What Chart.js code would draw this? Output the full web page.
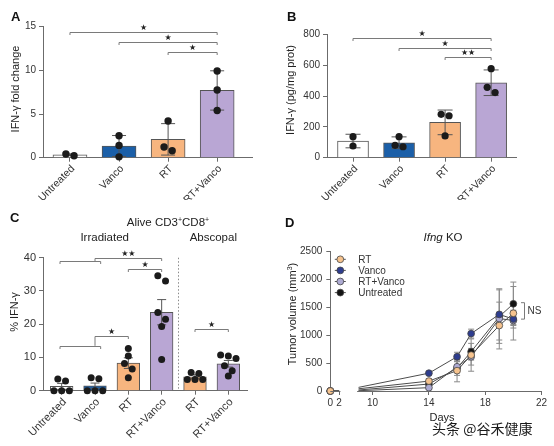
<!DOCTYPE html>
<html>
<head>
<meta charset="utf-8">
<title>IFN-γ panels</title>
<script src="https://cdn.jsdelivr.net/npm/chart.js@4.4.1/dist/chart.umd.min.js"></script>
<style>
  html, body { margin: 0; padding: 0; background: #fff; }
  body { position: relative; width: 554px; height: 446px; overflow: hidden;
         font-family: "Liberation Sans", Arial, sans-serif; color: #222; }
  canvas { position: absolute; }
  .t { position: absolute; white-space: nowrap; line-height: 1; }
  .c { transform: translate(-50%, -50%); }
  .v { transform: translate(-50%, -50%) rotate(-90deg); }
  .letter { font-size: 13px; font-weight: bold; color: #111; }
  sup { font-size: 7px; vertical-align: 4px; line-height: 0; }
</style>
</head>
<body>
<canvas id="chartA" width="277" height="200" style="left:0;top:0"></canvas>
<canvas id="chartB" width="277" height="200" style="left:277px;top:0"></canvas>
<canvas id="chartC" width="277" height="246" style="left:0;top:200px"></canvas>
<canvas id="chartD" width="277" height="246" style="left:277px;top:200px"></canvas>

<div class="t letter" style="left:11px;top:9.7px">A</div>
<div class="t letter" style="left:287px;top:9.7px">B</div>
<div class="t letter" style="left:10px;top:210.7px">C</div>
<div class="t letter" style="left:285px;top:215.7px">D</div>

<div class="t v" style="left:15px;top:89px;font-size:11px">IFN-γ fold change</div>
<div class="t v" style="left:289.5px;top:90px;font-size:11px">IFN-γ (pg/mg prot)</div>
<div class="t v" style="left:13.5px;top:312px;font-size:11px">% IFN-γ</div>
<div class="t v" style="left:292px;top:314px;font-size:11px">Tumor volume (mm<sup>3</sup>)</div>

<div class="t c" style="left:168px;top:222.7px;font-size:11.5px">Alive CD3<sup>+</sup>CD8<sup>+</sup></div>
<div class="t c" style="left:104.7px;top:238.3px;font-size:11.5px">Irradiated</div>
<div class="t c" style="left:213.3px;top:238.3px;font-size:11.5px">Abscopal</div>
<div class="t c" style="left:443px;top:238.3px;font-size:11.5px"><i>Ifng</i> KO</div>
<div class="t c" style="left:442px;top:416.7px;font-size:11px">Days</div>
<div class="t" style="left:432px;top:427.7px;transform:translateY(-50%);font-size:14px;font-family:'Noto Sans CJK SC',sans-serif;color:#1a1a1a;text-shadow:0 0 2px #fff,0 0 2px #fff">头条 @谷禾健康</div>

<script>
// ---- panel A: IFN-γ fold change ----
const groupsAB = ['Untreated', 'Vanco', 'RT', 'RT+Vanco'];
const foldMean = [0.33, 1.34, 2.1, 7.7];
const foldErr = [0.1, 1.2, 1.8, 2.25];
const foldPts = [[0.42, 0.23], [2.52, 1.41, 0.1], [4.2, 1.22, 0.8], [9.92, 7.75, 5.4]];
const foldSig = [[0, 3, 14.4, '★'], [1, 3, 13.2, '★'], [2, 3, 12.06, '★']];

// ---- panel B: IFN-γ pg/mg protein ----
const protMean = [108, 97, 229, 486];
const protErr = [44, 38, 80, 83];
const protPts = [[136, 76], [136, 80, 71], [281, 272, 141], [577, 456, 422]];
const protSig = [[0, 3, 778, '★'], [1, 3, 711, '★'], [2, 3, 650, '★★']];

// ---- panel C: % IFN-γ of alive CD3+CD8+ ----
const groupsC = ['Untreated', 'Vanco', 'RT', 'RT+Vanco', 'RT', 'RT+Vanco'];
const cd8Mean = [1.3, 1.5, 8.3, 23.6, 4.2, 8.1];
const cd8Err = [0.9, 0.8, 1.6, 3.8, 0.6, 1.0];
const cd8Pts = [[3.5, 2.9, 0, 0, 0], [3.9, 3.6, 0, 0, 0], [12.7, 10.4, 8.2, 6.5, 3.9],
  [34.6, 33.0, 23.5, 21.5, 19.3, 9.4], [5.5, 5.2, 3.4, 3.4, 3.4], [10.7, 10.4, 9.7, 7.5, 6.0, 4.4]];
// [from, to, level, label, level of left foot]
const cd8Sig = [[-0.05, 1.17, 39.1, ''], [1, 3, 40.0, '★★'], [2, 3, 36.5, '★'],
  [-0.05, 1.17, 13.5, ''], [1, 2, 16.4, '★', 13.5], [4, 5, 18.6, '★']];

// ---- panel D: tumour growth, Ifng KO ----
const days = [0, 2, 9, 14, 16, 17, 19, 20];
const markedDays = [0, 14, 16, 17, 19, 20];
const seriesD = ['RT', 'Vanco', 'RT+Vanco', 'Untreated'];
const volRT = [0, 0, 40, 178, 365, 645, 1175, 1395];
const volVanco = [0, 0, 65, 320, 615, 1030, 1375, 1290];
const volRTV = [0, 0, 5, 60, 435, 615, 1300, 1265];
const volUnt = [0, 0, 18, 125, 410, 705, 1335, 1565];
const sdRT = [0, 0, 0, 40, 200, 290, 420, 480];
const sdVanco = [0, 0, 0, 30, 80, 80, 460, 160];
const sdRTV = [0, 0, 0, 30, 90, 150, 80, 70];
const sdUnt = [0, 0, 0, 40, 130, 150, 480, 390];
const dayTicks = [0, 2, 10, 14, 18, 22];
const nsRange = [1290, 1585];

const barColors = ['#ffffff', '#1b5fa8', '#f7b57f', '#b9a6d4'];
const barColorsC = ['#ffffff', '#1b5fa8', '#f7b57f', '#b9a6d4', '#f7b57f', '#b9a6d4'];
const lineColors = ['#f6c38e', '#2e3d8f', '#aeabd3', '#141414'];
const axisColor = '#6b6b6b';

Chart.defaults.font.family = '"Liberation Sans", Arial, sans-serif';
Chart.defaults.font.size = 10;
Chart.defaults.color = '#333';

// spread dots of similar height side by side (simple beeswarm rows)
function dodge(vals, pxY, pxX, diam) {
  const order = vals.map((v, i) => i).sort((a, b) => vals[b] - vals[a]);
  const rows = [];
  order.forEach(i => {
    const row = rows[rows.length - 1];
    if (row && (vals[row[0]] - vals[i]) * pxY < diam * 0.97) row.push(i);
    else rows.push([i]);
  });
  const off = vals.map(() => 0);
  rows.forEach(row => row.forEach((i, k) => {
    off[i] = (k - (row.length - 1) / 2) * diam * 1.1 / pxX;
  }));
  return off;
}

function errorBars(means, errs, cap) {
  return {
    id: 'errorBars',
    afterDatasetDraw(chart, args) {
      if (args.meta.type !== 'bar') return;
      const { ctx, scales: { x, y } } = chart;
      ctx.save();
      ctx.strokeStyle = '#555';
      ctx.lineWidth = 1;
      ctx.beginPath();
      means.forEach((m, g) => {
        const px = x.getPixelForValue(g);
        const top = y.getPixelForValue(m + errs[g]);
        const bot = y.getPixelForValue(Math.max(0, m - errs[g]));
        ctx.moveTo(px, bot); ctx.lineTo(px, top);
        ctx.moveTo(px - cap / 2, top); ctx.lineTo(px + cap / 2, top);
        ctx.moveTo(px - cap / 2, bot); ctx.lineTo(px + cap / 2, bot);
      });
      ctx.stroke();
      ctx.restore();
    }
  };
}

function brackets(list) {
  return {
    id: 'brackets',
    afterDatasetsDraw(chart) {
      const { ctx, scales: { x, y } } = chart;
      ctx.save();
      ctx.strokeStyle = '#7a7a7a';
      ctx.lineWidth = 1;
      ctx.fillStyle = '#222';
      ctx.font = '8px "DejaVu Sans"';
      ctx.textAlign = 'center';
      ctx.textBaseline = 'middle';
      list.forEach(([a, b, v, label, foot]) => {
        const x1 = x.getPixelForValue(a), x2 = x.getPixelForValue(b);
        const yy = Math.round(y.getPixelForValue(v)) + 0.5;
        const y1 = foot === undefined ? yy + 2.5 : y.getPixelForValue(foot);
        ctx.beginPath();
        ctx.moveTo(x1, y1); ctx.lineTo(x1, yy); ctx.lineTo(x2, yy); ctx.lineTo(x2, yy + 2.5);
        ctx.stroke();
        if (label) ctx.fillText(label, (x1 + x2) / 2, yy - 5);
      });
      ctx.restore();
    }
  };
}

const divider = {
  id: 'divider',
  afterDatasetsDraw(chart) {
    const { ctx, chartArea, scales: { x } } = chart;
    const px = Math.round(x.getPixelForValue(3.5)) + 0.5;
    ctx.save();
    ctx.strokeStyle = '#8a8a8a';
    ctx.setLineDash([1.5, 2]);
    ctx.beginPath();
    ctx.moveTo(px, chartArea.top); ctx.lineTo(px, chartArea.bottom);
    ctx.stroke();
    ctx.restore();
  }
};

function barPanel(id, o) {
  const plotW = o.w - o.yw - o.padR, plotH = o.h - o.padT - o.xh;
  const pxX = plotW / (o.xmax - o.xmin), pxY = plotH / o.ymax;
  const dots = [];
  o.pts.forEach((vals, g) => {
    const off = dodge(vals, pxY, pxX, o.dot * 2);
    vals.forEach((v, k) => dots.push({ x: g + off[k], y: v }));
  });
  return new Chart(document.getElementById(id), {
    type: 'bar',
    data: {
      datasets: [
        { type: 'scatter', data: dots, order: 1, pointRadius: o.dot,
          pointBackgroundColor: '#1b1b1b', pointBorderWidth: 0, clip: false },
        { type: 'bar', data: o.means.map((m, g) => ({ x: g, y: m })), order: 2,
          backgroundColor: o.colors, borderColor: '#555', borderWidth: 1, barThickness: o.barW }
      ]
    },
    options: {
      responsive: false, animation: false, events: [],
      layout: { padding: { top: o.padT, right: o.padR, left: 0, bottom: 0 } },
      plugins: { legend: { display: false }, tooltip: { enabled: false } },
      scales: {
        x: {
          type: 'linear', min: o.xmin, max: o.xmax, offset: false,
          grid: { drawOnChartArea: false, tickLength: 4, color: axisColor, offset: false },
          border: { color: axisColor },
          afterBuildTicks: s => { s.ticks = o.cats.map((c, i) => ({ value: i })); },
          afterFit: s => { s.height = o.xh; },
          ticks: { autoSkip: false, minRotation: 45, maxRotation: 45, padding: 1, labelOffset: 3,
                   font: { size: o.catFont }, callback: v => o.cats[v] }
        },
        y: {
          min: 0, max: o.ymax,
          grid: { drawOnChartArea: false, tickLength: 4, color: axisColor },
          border: { color: axisColor },
          afterFit: s => { s.width = o.yw; },
          ticks: { stepSize: o.step, padding: 3, font: { size: o.tickFont }, callback: v => v }
        }
      }
    },
    plugins: [errorBars(o.means, o.errs, o.cap), brackets(o.sig)].concat(o.extra || [])
  });
}

barPanel('chartA', {
  w: 277, h: 200, yw: 43, padR: 25, padT: 26.7, xh: 42.3, xmin: -0.55, xmax: 3.71,
  ymax: 15, step: 5, cats: groupsAB, means: foldMean, errs: foldErr, pts: foldPts,
  sig: foldSig, colors: barColors, barW: 34, cap: 14, dot: 3.7, catFont: 10.5, tickFont: 10
});
barPanel('chartB', {
  w: 277, h: 200, yw: 50, padR: 38, padT: 34.3, xh: 42.3, xmin: -0.565, xmax: 3.54,
  ymax: 800, step: 200, cats: groupsAB, means: protMean, errs: protErr, pts: protPts,
  sig: protSig, colors: barColors, barW: 31, cap: 15, dot: 3.6, catFont: 10.5, tickFont: 10
});
barPanel('chartC', {
  w: 277, h: 246, yw: 43, padR: 30, padT: 57.7, xh: 55.3, xmin: -0.56, xmax: 5.56,
  ymax: 40, step: 10, cats: groupsC, means: cd8Mean, errs: cd8Err, pts: cd8Pts,
  sig: cd8Sig, colors: barColorsC, barW: 22.7, cap: 9, dot: 3.5, catFont: 11, tickFont: 11,
  extra: [divider]
});

// ---- broken day axis for panel D ----
const dayKnots = [[0, 0], [2.3, 0.048], [8.9, 0.127], [22, 1]];
function knotIndex(val, col) {
  let i = 0;
  while (i < dayKnots.length - 2 && val > dayKnots[i + 1][col]) i++;
  return i;
}
class BrokenScale extends Chart.LinearScale {
  getPixelForValue(v) {
    if (v === null || v === undefined || isNaN(v)) return NaN;
    const i = knotIndex(v, 0);
    const [v0, d0] = dayKnots[i], [v1, d1] = dayKnots[i + 1];
    return this.getPixelForDecimal(d0 + (v - v0) / (v1 - v0) * (d1 - d0));
  }
  getValueForPixel(p) {
    const d = this.getDecimalForPixel(p);
    const i = knotIndex(d, 1);
    const [v0, d0] = dayKnots[i], [v1, d1] = dayKnots[i + 1];
    return v0 + (d - d0) / (d1 - d0) * (v1 - v0);
  }
}
BrokenScale.id = 'broken';
BrokenScale.defaults = Chart.LinearScale.defaults;
Chart.register(BrokenScale);

const volumes = [volRT, volVanco, volRTV, volUnt];
const spreads = [sdRT, sdVanco, sdRTV, sdUnt];

const growthExtras = {
  id: 'growthExtras',
  beforeDatasetsDraw(chart) {
    const { ctx, scales: { x, y } } = chart;
    ctx.save();
    ctx.strokeStyle = '#8a8a8a';
    ctx.lineWidth = 1;
    ctx.beginPath();
    volumes.forEach((vals, s) => vals.forEach((v, i) => {
      const e = spreads[s][i];
      if (!e) return;
      const px = x.getPixelForValue(days[i]);
      const top = y.getPixelForValue(v + e), bot = y.getPixelForValue(v - e);
      ctx.moveTo(px, bot); ctx.lineTo(px, top);
      ctx.moveTo(px - 3, top); ctx.lineTo(px + 3, top);
      ctx.moveTo(px - 3, bot); ctx.lineTo(px + 3, bot);
    }));
    ctx.stroke();
    ctx.restore();
  },
  afterDraw(chart) {
    const { ctx, chartArea, scales: { x, y } } = chart;
    ctx.save();
    // the two pieces of the broken x axis
    const yb = Math.round(chartArea.bottom) + 0.5;
    ctx.strokeStyle = axisColor;
    ctx.lineWidth = 1;
    ctx.beginPath();
    ctx.moveTo(x.getPixelForValue(0), yb); ctx.lineTo(x.getPixelForValue(2.3), yb);
    ctx.moveTo(x.getPixelForValue(8.9), yb); ctx.lineTo(x.getPixelForValue(22), yb);
    ctx.stroke();
    // legend
    ctx.font = '10px "Liberation Sans", Arial, sans-serif';
    ctx.textBaseline = 'middle';
    ctx.textAlign = 'left';
    seriesD.forEach((name, s) => {
      const cx = chartArea.left + 10, cy = chartArea.top + 7.6 + s * 11.1;
      ctx.strokeStyle = '#555';
      ctx.beginPath(); ctx.moveTo(cx - 5.5, cy); ctx.lineTo(cx + 5.5, cy); ctx.stroke();
      ctx.beginPath(); ctx.arc(cx, cy, 3.4, 0, Math.PI * 2);
      ctx.fillStyle = lineColors[s]; ctx.fill();
      ctx.strokeStyle = '#444'; ctx.lineWidth = 0.8; ctx.stroke(); ctx.lineWidth = 1;
      ctx.fillStyle = '#333';
      ctx.fillText(name, cx + 18, cy + 0.5);
    });
    // NS bracket
    const nx = Math.round(x.getPixelForValue(20.75)) + 0.5;
    const n1 = y.getPixelForValue(nsRange[1]), n0 = y.getPixelForValue(nsRange[0]);
    ctx.strokeStyle = '#7a7a7a';
    ctx.beginPath();
    ctx.moveTo(nx - 3.5, n1); ctx.lineTo(nx, n1); ctx.lineTo(nx, n0); ctx.lineTo(nx - 3.5, n0);
    ctx.stroke();
    ctx.fillStyle = '#333';
    ctx.fillText('NS', nx + 3, (n0 + n1) / 2);
    ctx.restore();
  }
};

new Chart(document.getElementById('chartD'), {
  type: 'line',
  data: {
    datasets: seriesD.map((name, s) => ({
      label: name,
      data: days.map((d, i) => ({ x: d, y: volumes[s][i] })),
      borderColor: '#4d4d4d', borderWidth: 1,
      pointRadius: days.map(d => markedDays.includes(d) ? 3.4 : 0),
      pointBackgroundColor: lineColors[s], pointBorderColor: '#444', pointBorderWidth: 0.8,
      clip: false,
      segment: { borderColor: c => (c.p1.parsed.x - c.p0.parsed.x > 5 ? 'rgba(0,0,0,0)' : undefined) }
    }))
  },
  options: {
    responsive: false, animation: false, events: [],
    layout: { padding: { top: 51.7, right: 12.5, left: 0, bottom: 0 } },
    plugins: { legend: { display: false }, tooltip: { enabled: false } },
    scales: {
      x: {
        type: 'broken', min: 0, max: 22,
        grid: { drawOnChartArea: false, tickLength: 4, color: axisColor },
        border: { display: false },
        afterBuildTicks: s => { s.ticks = dayTicks.map(v => ({ value: v })); },
        afterFit: s => { s.height = 55; },
        ticks: { autoSkip: false, maxRotation: 0, padding: 2, callback: v => v }
      },
      y: {
        min: 0, max: 2500,
        grid: { drawOnChartArea: false, tickLength: 4, color: axisColor },
        border: { color: axisColor },
        afterFit: s => { s.width = 53.3; },
        ticks: { stepSize: 500, padding: 4, callback: v => v }
      }
    }
  },
  plugins: [growthExtras]
});
</script>
</body>
</html>
